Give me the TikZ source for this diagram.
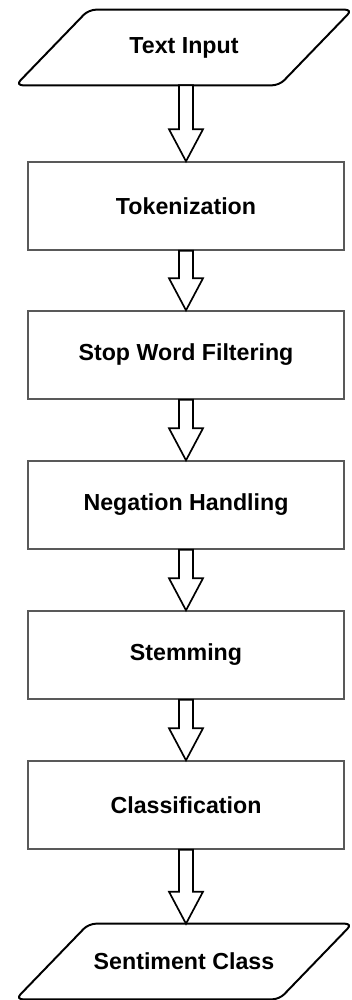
\documentclass[tikz,border=0pt]{standalone}
\usepackage{fontspec}
\setmainfont{Liberation Sans}
\usetikzlibrary{calc}
\tikzset{%
    every node/.style={font=\fontsize{16.5}{19}\selectfont\bfseries},
    procbox/.style={rectangle, draw=black!65, line width=1pt,
    	minimum width=7.9cm, minimum height=2.2cm, inner sep=0pt},
    iobox/.style={rectangle, minimum width=8.4cm, minimum height=1.875cm,
    	inner sep=0pt},
    ioline/.style={draw, line width=1.4pt, rounded corners=5pt},
    flow/.style={fill=white, line width=1.2pt, line join=miter,
    	to path={($(\tikztostart)+(-7,0)$) -- ($(\tikztotarget)+(-7,-32)$)
    	-- ($(\tikztotarget)+(-17,-32)$) -- (\tikztotarget)
    	-- ($(\tikztotarget)+(17,-32)$) -- ($(\tikztotarget)+(7,-32)$)
    	-- ($(\tikztostart)+(7,0)$) -- cycle}}
}
\begin{document}
\begin{tikzpicture}[x=0.025cm, y=-0.025cm]
  \useasboundingbox (0,0) rectangle (351,1000);

  \node (in) [iobox] at (184,47.5) {Text Input};
  \node (tok) [procbox] at (186,206) {Tokenization};
  \node (stop) [procbox] at (186,355) {Stop Word Filtering};
  \node (neg) [procbox] at (186,505) {Negation Handling};
  \node (stem) [procbox] at (186,655) {Stemming};
  \node (cls) [procbox] at (186,805) {Classification};
  \node (out) [iobox] at (184,961.5) {Sentiment Class};

  % input / output parallelograms
  \draw [ioline] (in.south west) -- ($(in.north west)+(73,0)$)
    -- (in.north east) -- ($(in.south east)+(-73,0)$) -- cycle;
  \draw [ioline] (out.south west) -- ($(out.north west)+(73,0)$)
    -- (out.north east) -- ($(out.south east)+(-73,0)$) -- cycle;

  \draw (in.south -| tok.north) edge [flow] (tok.north);
  \draw (tok.south) edge [flow] (stop.north);
  \draw (stop.south) edge [flow] (neg.north);
  \draw (neg.south) edge [flow] (stem.north);
  \draw (stem.south) edge [flow] (cls.north);
  \draw (cls.south) edge [flow] (out.north -| cls.south);
\end{tikzpicture}
\end{document}
